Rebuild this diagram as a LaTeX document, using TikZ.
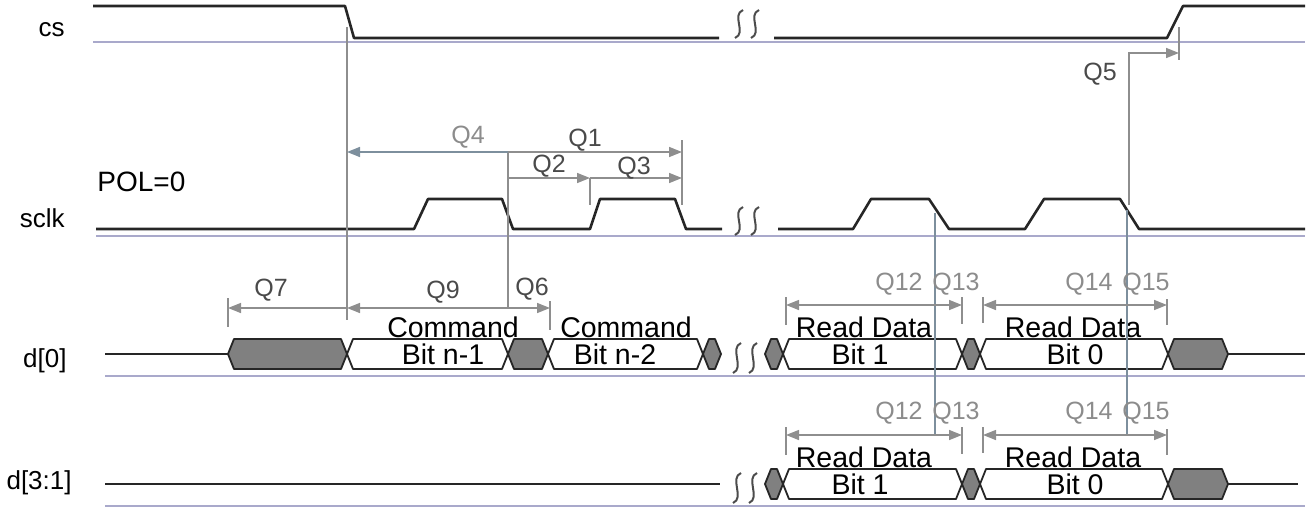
\documentclass[tikz,border=0pt]{standalone}
\usepackage{fontspec}
\setmainfont{Liberation Sans}
\usepackage{xcolor}
\usepackage{tikz}
\usetikzlibrary{positioning}
\usetikzlibrary{arrows.meta}

\definecolor{baseblue}{HTML}{A9A9CB}
\definecolor{measgray}{HTML}{8E8E8E}
\definecolor{measblue}{HTML}{7D8F9D}
\definecolor{busgray}{HTML}{808080}
\definecolor{qdark}{HTML}{4A4A4A}
\definecolor{qlight}{HTML}{8C8C8C}

\newcommand{\hexbus}[4]{\draw[bus style,fill=#4] (#1,#3) -- (#1+6,#3-15) -- (#2-6,#3-15) -- (#2,#3) -- (#2-6,#3+15) -- (#1+6,#3+15) -- cycle;}
\newcommand{\squig}[3]{\foreach \dx in {0,16} {\draw[squig style] (#1+\dx+4,#2) .. controls (#1+\dx-8,#2+5) and (#1+\dx+8,#3-5) .. (#1+\dx-4,#3);}}

\begin{document}
\begin{tikzpicture}[x=0.5pt,y=-0.5pt,font=\fontsize{12.5}{15}\selectfont,
      sig style/.style={draw=black!85,line width=1.3pt,line join=round},
      base style/.style={draw=baseblue,line width=1pt},
      idle style/.style={draw=black!85,line width=0.8pt},
      bus style/.style={draw=black!85,line width=0.9pt,line join=round},
      squig style/.style={draw=black!70,line width=1pt},
      meas style/.style={draw=measgray,line width=0.75pt},
      ref style/.style={draw=measblue,line width=0.75pt},
      arr style/.style={meas style,-{Triangle[length=6.5pt,width=5pt]}},
      q style/.style={text=qdark,inner sep=0pt},
      ql style/.style={text=qlight,inner sep=0pt},
      bit style/.style={inner sep=0pt,font=\fontsize{14.25}{16}\selectfont},
      row style/.style={anchor=east,inner sep=0pt,font=\fontsize{13}{15}\selectfont}
      ]
      \useasboundingbox (0,0) rectangle (1309,508);

      \node[row style] (cs) at (65,30) {cs};
      \node[row style] (sclk) at (65,218) {sclk};
      \node[row style] (d0) at (67,361) {d[0]};
      \node[row style] (d31) at (72,483) {d[3:1]};
      \node[anchor=west,inner sep=0pt,font=\fontsize{14}{16}\selectfont] (pol) at (97,182) {POL=0};

      \draw[base style] (93,42) -- (1305,42);
      \draw[base style] (96,236) -- (1305,236);
      \draw[base style] (105,376) -- (1305,376);
      \draw[base style] (105,506) -- (1305,506);

      \draw[sig style] (93,6) -- (345,6) -- (354,38) -- (719,38);
      \draw[sig style] (774,38) -- (1167,38) -- (1183,6) -- (1305,6);
      \draw[sig style] (96,229) -- (414,229) -- (428,199) -- (502,199) -- (513,229) -- (590,229)
        -- (600,199) -- (675,199) -- (686,229) -- (722,229);
      \draw[sig style] (778,229) -- (853,229) -- (871,199) -- (929,199) -- (949,229) -- (1025,229)
        -- (1044,199) -- (1120,199) -- (1139,229) -- (1305,229);

      \squig{739}{10}{38}
      \squig{739}{207}{235}
      \squig{737}{343}{373}
      \squig{737}{473}{503}

      \draw[idle style] (105,354) -- (228,354);
      \draw[idle style] (1228,354) -- (1305,354);
      \draw[idle style] (105,484) -- (720,484);
      \draw[idle style] (1228,484) -- (1298,484);
      \hexbus{228}{347}{354}{busgray}
      \hexbus{347}{508}{354}{white}
      \hexbus{508}{548}{354}{busgray}
      \hexbus{548}{703}{354}{white}
      \hexbus{703}{721}{354}{busgray}
      \foreach \ym in {354,484} {
        \hexbus{765}{783}{\ym}{busgray}
        \hexbus{783}{962}{\ym}{white}
        \hexbus{962}{980}{\ym}{busgray}
        \hexbus{980}{1168}{\ym}{white}
        \hexbus{1168}{1228}{\ym}{busgray}
        \node[bit style] at (864,\ym-27) {Read Data};
        \node[bit style] at (860,\ym) {Bit 1};
        \node[bit style] at (1073,\ym-27) {Read Data};
        \node[bit style] at (1075,\ym) {Bit 0};
      }
      \node[bit style] (cmd1) at (453,327) {Command};
      \node[bit style] (bit1) at (443,354) {Bit n-1};
      \node[bit style] (cmd2) at (626,327) {Command};
      \node[bit style] (bit2) at (615,354) {Bit n-2};

      \coordinate (csfall) at (347,27);
      \coordinate (csend) at (347,320);
      \coordinate (clkfall) at (508,152);
      \coordinate (clkend) at (508,308);
      \coordinate (rd1) at (935,213);
      \coordinate (rd0) at (1127,210);
      \draw[meas style] (csfall) -- (csend);
      \draw[meas style] (clkfall) -- (clkend);
      \draw[ref style] (rd1) -- (935,435);
      \draw[ref style] (rd0) -- (1127,435);

      \draw[meas style] (682,140) -- (682,205);
      \draw[meas style] (590,178) -- (590,205);
      \draw[arr style,draw=measblue] (clkfall) -- (clkfall -| csfall);
      \draw[arr style] (clkfall) -- (682,152);
      \draw[arr style] (508,178) -- (590,178);
      \draw[arr style] (590,178) -- (682,178);

      \draw[meas style] (1179,27) -- (1179,60);
      \draw[arr style] (1129,205) |- (1179,53);

      \draw[meas style] (228,298) -- (228,327);
      \draw[meas style] (550,301) -- (550,330);
      \draw[arr style] (347,308) -- (228,308);
      \draw[arr style] (clkend) -- (clkend -| csend);
      \draw[arr style] (clkend) -- (550,308);

      \foreach \ya/\yt in {305/297,435/427} {
        \draw[meas style] (786,\yt) -- (786,\yt+28);
        \draw[meas style] (962,\yt) -- (962,\yt+27);
        \draw[meas style] (983,\yt) -- (983,\yt+26);
        \draw[meas style] (1167,\yt+2) -- (1167,\yt+28);
        \draw[arr style] (935,\ya) -- (786,\ya);
        \draw[arr style] (935,\ya) -- (962,\ya);
        \draw[arr style] (1127,\ya) -- (983,\ya);
        \draw[arr style] (1127,\ya) -- (1167,\ya);
      }

      \node[ql style] (q4) at (468,137) {Q4};
      \node[q style] (q1) at (585,140) {Q1};
      \node[q style] (q2) at (549,166) {Q2};
      \node[q style] (q3) at (634,168) {Q3};
      \node[q style] (q5) at (1100,74) {Q5};
      \node[q style] (q7) at (271,290) {Q7};
      \node[q style] (q9) at (443,292) {Q9};
      \node[q style] (q6) at (532,289) {Q6};
      \foreach \yq/\nm in {284/a,413/b} {
        \node[ql style] (q12\nm) at (899,\yq) {Q12};
        \node[ql style] (q13\nm) at (956,\yq) {Q13};
        \node[ql style] (q14\nm) at (1089,\yq) {Q14};
        \node[ql style] (q15\nm) at (1146,\yq) {Q15};
      }
    \end{tikzpicture}
\end{document}
